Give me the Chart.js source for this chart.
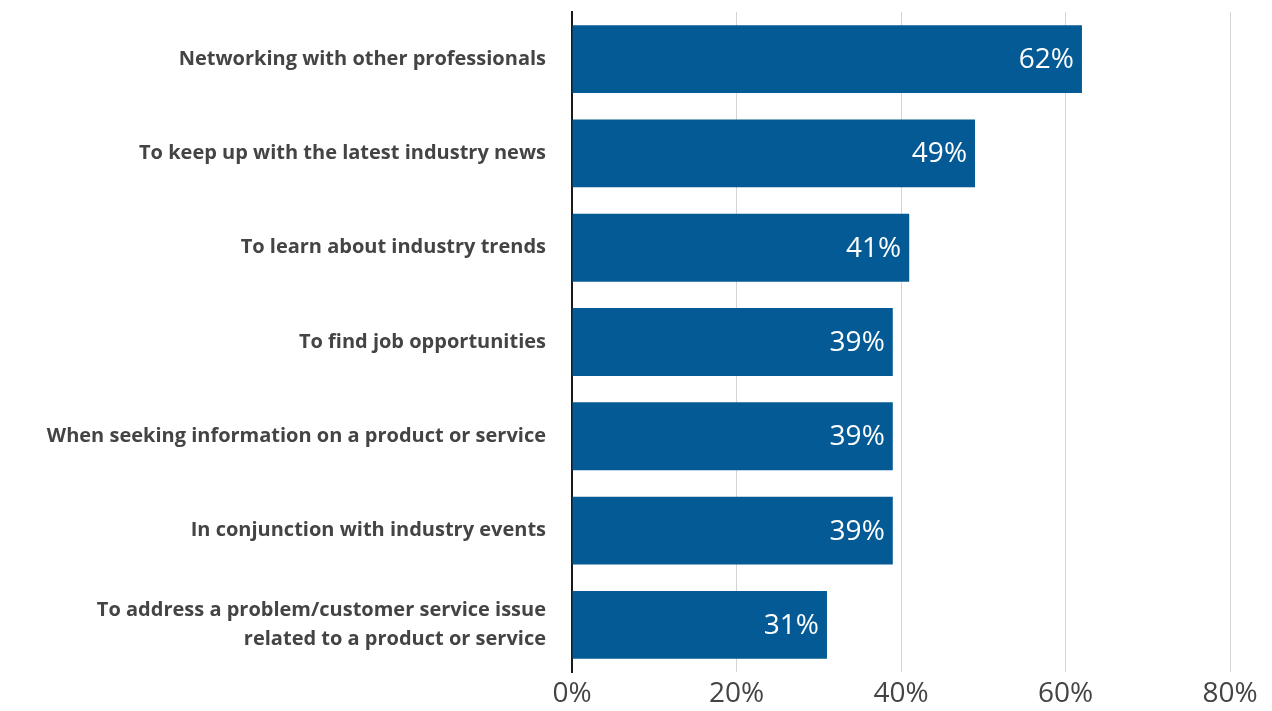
<!DOCTYPE html>
<html>
<head>
<meta charset="utf-8">
<title>Reasons for using social media</title>
<script src="https://cdn.jsdelivr.net/npm/chart.js@4"></script>
<style>
  html, body { margin: 0; padding: 0; background: #fff; }
  #wrap { width: 1272px; height: 711px; position: relative; }
</style>
</head>
<body>
<div id="wrap"><canvas id="chart"></canvas></div>
<script>
// Categories and percentages
const categories = [
    'Networking with other professionals',
    'To keep up with the latest industry news',
    'To learn about industry trends',
    'To find job opportunities',
    'When seeking information on a product or service',
    'In conjunction with industry events',
    ['To address a problem/customer service issue', 'related to a product or service']
];
const percents = [62, 49, 41, 39, 39, 39, 31];
const tickValues = [0, 20, 40, 60, 80];

const FONT = '"Open Sans", Lato, sans-serif';
const BAR_COLOR = '#035a94';

// Writes the percentage inside the end of each bar
const barLabels = {
    id: 'barLabels',
    afterDatasetsDraw(chart) {
        const ctx = chart.ctx;
        const meta = chart.getDatasetMeta(0);
        ctx.save();
        ctx.fillStyle = '#ffffff';
        ctx.font = '28px ' + FONT;
        ctx.textAlign = 'right';
        ctx.textBaseline = 'middle';
        meta.data.forEach((bar, i) => {
            ctx.fillText(percents[i] + '%', bar.x - 8, bar.y + 1);
        });
        ctx.restore();
    }
};

const ctx = document.getElementById('chart').getContext('2d');
new Chart(ctx, {
    type: 'bar',
    data: {
        labels: categories,
        datasets: [{
            data: percents,
            backgroundColor: BAR_COLOR,
            borderWidth: 0,
            categoryPercentage: 1,
            barPercentage: 0.72
        }]
    },
    options: {
        indexAxis: 'y',
        responsive: true,
        maintainAspectRatio: false,
        animation: false,
        layout: { padding: { top: 12, right: 42, left: 0, bottom: 0 } },
        plugins: {
            legend: { display: false },
            tooltip: { enabled: false }
        },
        scales: {
            x: {
                min: 0,
                max: 80,
                afterBuildTicks(scale) {
                    scale.ticks = tickValues.map(v => ({ value: v }));
                },
                afterFit(scale) {
                    scale.height = 39;
                    scale.paddingLeft = 0;
                    scale.paddingRight = 0;
                },
                border: { display: false },
                grid: {
                    drawTicks: false,
                    color: c => c.tick && c.tick.value === 0 ? 'rgba(0,0,0,0)' : '#d4d4d4',
                    lineWidth: 1
                },
                ticks: {
                    padding: 5,
                    color: '#444',
                    font: { family: FONT, size: 28 },
                    callback: v => v + '%'
                }
            },
            y: {
                afterFit(scale) {
                    scale.width = 572;
                    scale.paddingTop = 0;
                    scale.paddingBottom = 0;
                },
                border: { display: true, color: '#1a1a1a', width: 2 },
                grid: { display: false, drawTicks: false },
                ticks: {
                    padding: 26,
                    color: '#444',
                    font: { family: FONT, size: 20, weight: 'bold', lineHeight: 1.45 }
                }
            }
        }
    },
    plugins: [barLabels]
});
</script>
</body>
</html>
